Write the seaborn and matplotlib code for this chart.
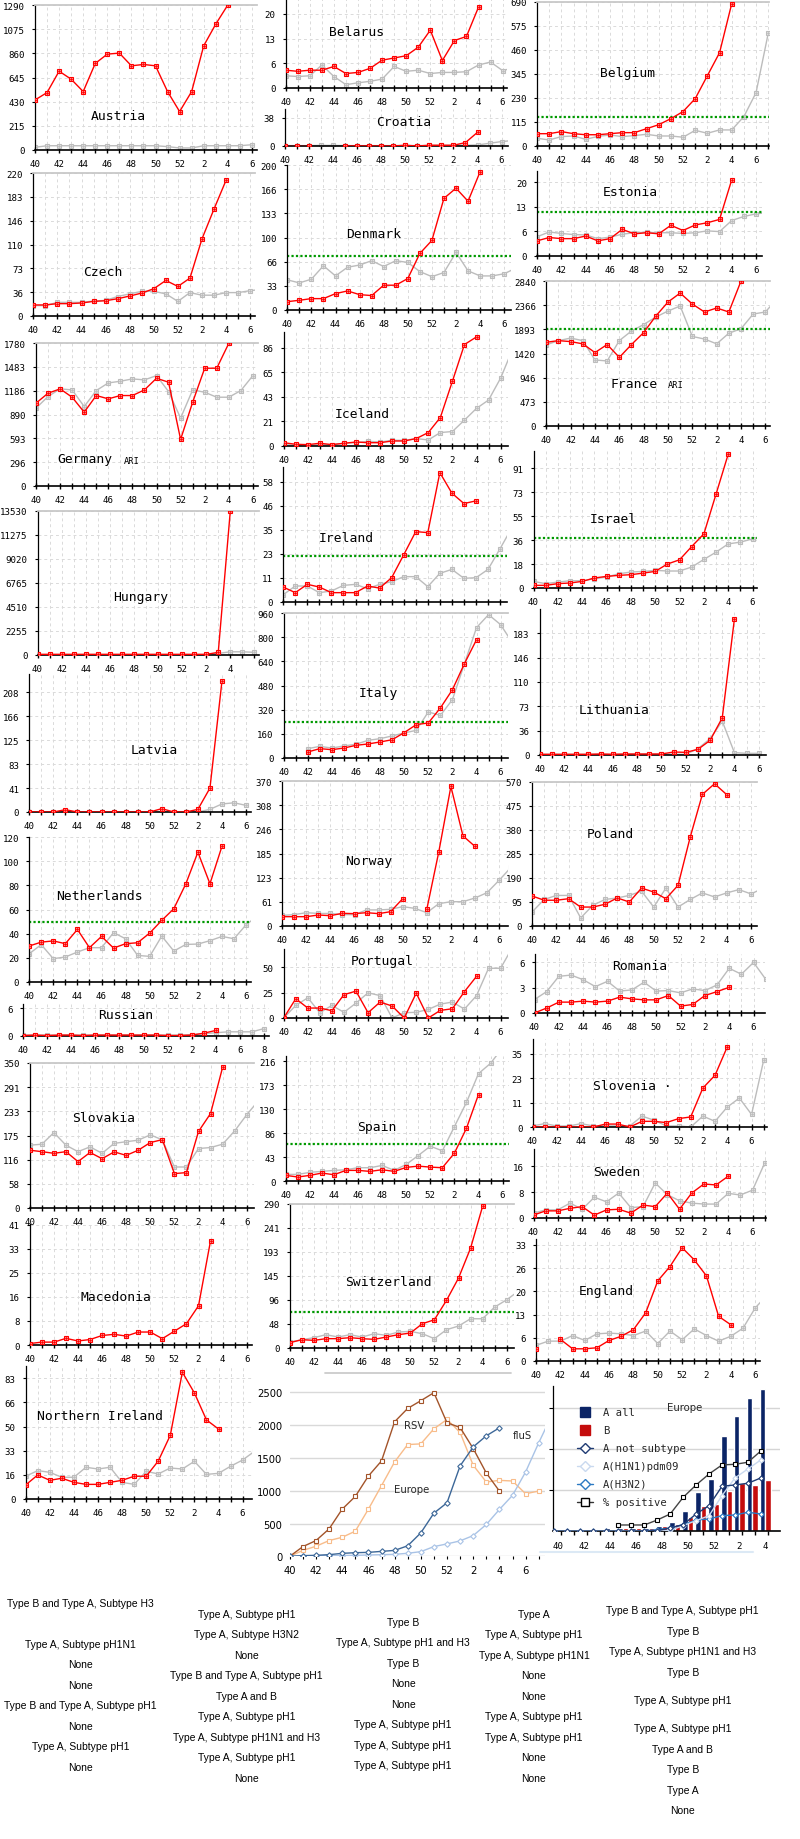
import numpy as np
import pandas as pd
import matplotlib
matplotlib.use("Agg")
import matplotlib.pyplot as plt
from matplotlib.lines import Line2D
import seaborn as sns

sns.set_theme(style="white")
plt.rcParams["font.family"] = ["DejaVu Sans Mono", "DejaVu Sans"]

N = np.nan
week_ticks = ["40", "41", "42", "43", "44", "45", "46", "47", "48", "49", "50", "51", "52",
              "1", "2", "3", "4", "5", "6", "7", "8"]

# ---------------- data (per country: red = current season, gray = previous) -------------
aut_red = [445, 511, 701, 630, 520, 770, 853, 862, 749, 761, 749, 520, 342, 520, 927, 1120, 1290]
aut_gray = [24, 38, 38, 38, 38, 38, 38, 38, 38, 38, 38, 30, 18, 18, 38, 38, 38, 38, 47]
blr_red = [4.8, 4.5, 4.8, 4.8, 5.8, 3.9, 4.2, 5.3, 7.5, 8.1, 8.7, 11.0, 15.6, 7.4, 12.8, 13.9, 21.8]
blr_gray = [3.3, 3.1, 3.3, 6.2, 3.1, 0.9, 1.4, 1.8, 2.4, 5.8, 4.5, 4.8, 3.9, 4.2, 4.2, 4.4, 6.2, 7.0, 4.7, 5.5]
hrv_red = [0, 0, 0, N, N, 0, 0, 0, 0, 0, 1, 0, 1, 1, 1, 4.6, 18.5]
hrv_gray = [0.5, 0.5, 0.5, 0.8, 0.8, 0.5, 0.5, 0.5, 0.5, 0.5, 0.8, 0.5, 0.8, 0.8, 0.8, 1.0, 1.4, 3.7, 6.0, 7.5]
bel_red = [59, 59, 69, 59, 54, 54, 59, 64, 64, 83, 102, 131, 165, 227, 337, 447, 682]
bel_gray = [37, 29, 45, 48, 32, 46, 53, 45, 50, 56, 48, 48, 42, 75, 61, 77, 77, 141, 256, 540]
cze_red = [17, 17, 19, 19, 20, 22.5, 23.5, 26.6, 30.7, 35.3, 42, 54.7, 45.5, 58.3, 118.7, 164.7, 209]
cze_gray = [16, 16, 21, 21, 21, 23, 24, 30, 34, 38, 38, 34, 22.5, 36, 32, 32, 36, 36, 39, 41]
dnk_red = [11.5, 13.4, 15.7, 15.7, 22.6, 26.3, 21.2, 19.9, 34.2, 34.2, 43.4, 78, 96, 154, 168, 150, 190.7]
dnk_gray = [41.6, 37.4, 42.5, 61, 47, 59, 62, 68, 60, 68, 65.6, 53, 46, 51.7, 79.4, 54, 47, 47, 50, 58]
est_red = [4.1, 5.0, 4.7, 4.7, 5.4, 4.1, 4.7, 7.2, 6.0, 6.3, 6.0, 8.3, 6.9, 8.4, 9.0, 9.9, 20.6]
est_gray = [5.2, 6.5, 6.1, 5.8, 5.7, 4.7, 5.1, 5.9, 6.3, 6.4, 6.3, 6.3, 6.1, 6.3, 6.8, 6.6, 9.6, 10.7, 11.4, 11.8]
fra_red = [1640, 1672, 1653, 1609, 1438, 1596, 1344, 1596, 1830, 2154, 2428, 2604, 2389, 2233, 2311, 2233, 2840]
fra_gray = [1590, 1672, 1722, 1672, 1293, 1274, 1672, 1861, 1987, 2134, 2252, 2350, 1754, 1703, 1609, 1817, 1905,
            2193, 2233, 2500]
deu_red = [1031, 1155, 1209, 1105, 919, 1126, 1085, 1126, 1126, 1196, 1341, 1292, 580, 1043, 1466, 1466, 1776]
deu_gray = [969, 1114, 1209, 1196, 989, 1188, 1283, 1304, 1333, 1321, 1374, 1176, 845, 1196, 1167, 1105, 1105, 1188, 1374]
isl_red = [2.9, 1.5, 1.2, 2.4, 1.2, 2.4, 3.5, 2.9, 2.9, 4.4, 4.4, 6.5, 11.8, 25, 56.8, 89, 95.7]
isl_gray = [1.2, 0.6, 0.6, 1.0, 1.2, 2.4, 2.9, 4.1, 3.5, 5, 5, 6.5, 5.3, 11.8, 12.7, 22.7, 33, 40.3, 59.5, 85]
hun_red = [60, 60, 60, 60, 60, 60, 60, 60, 60, 60, 60, 60, 60, 60, 60, 250, 13530]
hun_gray = [40, 40, 40, 40, 40, 40, 40, 40, 40, 40, 40, 40, 40, 40, 40, 150, 300, 300, 250]
irl_red = [7.2, 4.5, 8.5, 7.2, 4.5, 4.5, 4.5, 7.7, 6.7, 11.7, 22.7, 33.9, 33.4, 62.3, 52.4, 47.4, 48.7]
irl_gray = [3.5, 7.7, 7.7, 4.5, 5.3, 8, 8.5, 6.4, 8.5, 9.8, 12.2, 12.2, 7.4, 13.8, 15.7, 11.4, 11.7, 15.7, 25.7, 36]
isr_red = [2, 2, 3.3, 3.8, 5, 7.6, 8.8, 9.6, 10.1, 11.3, 12.6, 18.2, 21.4, 31.5, 41.1, 71.3, 101.6]
isr_gray = [5, 3.3, 4.5, 5.5, 5.5, 7, 8.3, 10.8, 12.1, 12.6, 13.4, 12.9, 12.9, 15.9, 21.7, 27.2, 33.5, 34.8, 37.3]
ita_red = [N, N, 40, 62, 55, 66, 84, 93, 106, 121, 168, 221, 232, 331, 452, 625, 783]
ita_gray = [N, N, 62, 77, 66, 80, 91, 117, 128, 146, 166, 183, 305, 282, 386, 624, 863, 949, 883, 760]
ltu_red = [1, 1, 1, 1, 1, 1.5, 1, 1.5, 1.5, 1.5, 1.5, 4.5, 4, 8.5, 22, 56, 205]
ltu_gray = [1, 1, 1, 1, 1, 1, 1, 1, 1, 1, 1, 1, 1, 9.5, 24.6, 51, 3.5, 2.5, 2.5]
lva_red = [0, 0, 0, 4, 0, 0, 0, 0, 0, 0, 0, 5.8, 0, 0, 4.6, 41.6, 228]
lva_gray = [0, 0, 0, 0, 0, 0, 0, 0, 0, 0, 0, 0, 0, 0, 0, 4.6, 14, 16, 11.5]
nld_red = [29.8, 33, 34, 31.7, 43.5, 28.4, 37.7, 28.1, 31.7, 32.5, 40.5, 51, 60.6, 81.3, 107.4, 81.3, 112.4]
nld_gray = [23.4, 30.9, 19.3, 20.7, 24.8, 28.4, 28.4, 40.8, 35.8, 22, 21.2, 38, 25.6, 31.1, 31.4, 34.2, 37.7, 35.8,
            47.4, 55]
nor_red = [23.8, 23.8, 23.8, 28, 26.4, 32.4, 31.5, 34, 31.5, 36.6, 69.8, N, 42.6, 190, 356, 230, 203]
nor_gray = [27, 29, 34, 32, 32, 29, 29, 41, 41, 42.6, 49.4, 45, 34, 57, 62, 62, 71.5, 85, 116.6, 150]
pol_red = [119, 102, 102, 108, 75, 75, 86, 111, 95, 150, 134.5, 108, 161, 352, 521, 563, 520]
pol_gray = [55, 105, 121, 121, 32, 82, 105, 111, 121, 138, 75, 150, 75, 105, 131, 115, 131, 144, 127, 150]
prt_red = [0, 19, 9.8, 9.8, 7.2, 23, 26.5, 5.2, 15.7, 11.8, 0, 24.5, 0, 7.5, 9.1, 26, 41]
prt_gray = [0, 12.4, 19.9, 5.2, 12.4, 5.6, 14.7, 24.8, 22.1, 0, 5.2, 5.6, 8.5, 13.7, 15.7, 8.8, 22, 49, 49, 70]
rou_red = [0, 0.59, 1.29, 1.29, 1.41, 1.29, 1.41, 1.88, 1.68, 1.56, 1.56, 2.07, 0.82, 1.01, 2.07, 2.54, 3.05]
rou_gray = [1.6, 2.54, 4.35, 4.5, 3.95, 3.13, 3.76, 2.6, 2.74, 3.65, 2.6, 2.66, 2.39, 2.86, 2.66, 3.33, 5.3, 4.6,
            6.0, 4.0]
rus_red = [0.1, 0.2, 0.1, 0.2, 0.2, 0.1, 0.2, 0.2, 0.2, 0.2, 0.2, 0.2, 0.1, 0.1, 0.2, 0.6, 1.2]
rus_gray = [0.2, 0.2, 0.2, 0.2, 0.2, 0.2, 0.2, 0.2, 0.2, 0.2, 0.2, 0.2, 0.2, 0.2, 0.3, 0.5, 0.7, 0.9, 0.9, 0.9, 1.6]
svk_red = [139.5, 136, 132, 136, 112, 134, 119, 135.5, 127, 139.5, 158, 165, 83, 85.5, 184.7, 228, 339.5]
svk_gray = [151.6, 154, 182, 151.6, 136, 147.6, 132, 156, 160, 163.7, 176.6, 164.5, 99, 99, 143.5, 146, 154, 186,
            225, 260]
esp_red = [10.1, 7.2, 10.1, 14.3, 11.3, 19.1, 19.1, 17.3, 20.3, 17.3, 24.5, 26.8, 25, 23.9, 50.1, 94.9, 155.7]
esp_gray = [11.9, 11.9, 15.5, 17.3, 19.1, 20.3, 23.9, 23.9, 28, 19.1, 29.8, 45.9, 62.6, 54.3, 97.9, 141.4, 193.3,
            211.8, 240]
svn_red = [0, 0, 0, 0, 0, 0, 1.4, 1.4, 0, 2.7, 2.7, 2.1, 4, 4.8, 18.6, 24.7, 38.2]
svn_gray = [0.5, 1.6, 0.5, 0.5, 1.6, 0.5, 0.5, 0.5, 0.5, 5.2, 3.2, 0.5, 0.5, 0, 5.2, 2.7, 9.5, 13.8, 6, 32, 28]
swe_red = [0.9, 2.2, 2.2, 3, 3.5, 0.9, 2.5, 2.7, 1.5, 4, 3.5, 7.7, 2.7, 7.7, 10.5, 10.2, 12.9]
swe_gray = [1.5, 2.5, 2.5, 4.6, 2.7, 6.4, 5, 7.7, 3.2, 3.5, 10.8, 7.2, 5.3, 4.6, 4.3, 4.3, 7.6, 7.1, 8.6, 17, 22]
mkd_red = [0.5, 1, 1, 2.3, 1.4, 1.9, 3.3, 3.7, 3.1, 4.5, 4.5, 2.2, 4.8, 7.4, 13.6, 36.2]
che_red = [10.7, 16.7, 15.4, 18.8, 18.8, 20.8, 18.8, 17.4, 22.1, 26.8, 30.1, 48.9, 56.9, 95.8, 140.7, 201, 285.3]
che_gray = [12, 16.7, 20.8, 26.8, 22.1, 26.8, 22.1, 28.8, 25.5, 32.1, 33.5, 28.8, 18.8, 36.8, 44.2, 58.9, 58.9, 82.4,
            97.1, 115]
eng_red = [3.5, N, 6.2, 3.5, 3.5, 3.8, 5.9, 7.1, 9, 13.8, 23, 27.1, 32.5, 29, 24.4, 12.8, 10.4]
eng_gray = [4.5, 5.7, 5.7, 7.3, 5.9, 7.8, 8, 7.8, 7.3, 8.6, 5, 8.6, 6.1, 9.2, 7.3, 5.7, 7.1, 9.4, 15.2, 19]
nir_red = [9.7, 16.6, 12.9, 14.3, 11.5, 10.1, 10.1, 11.5, 12.9, 15.7, 15.7, 26.2, 44, 87.5, 73.2, 54.6, 48.3]
nir_gray = [15.7, 19.6, 18.4, 15, 15, 21.9, 20.7, 21.9, 11.5, 10.1, 19.1, 17.3, 21.4, 20.7, 26, 17, 17.7, 22.6, 26.9, 33]

# Europe RSV / flu counts
rsv_dark = [0, 148, 240, 418, 719, 913, 1224, 1454, 2051, 2255, 2372, 2495, 2036, 1964, 1643, 1270, 995]
rsv_light = [0, 90, 153, 240, 290, 383, 719, 1077, 1439, 1704, 1714, 1944, 2087, 1888, 1388, 1133, 1158, 1148, 954, 995]
flu_dark = [0, 10, 15, 25, 45, 55, 60, 75, 90, 160, 357, 658, 816, 1378, 1668, 1837, 1959]
flu_light = [0, 5, 8, 10, 12, 15, 20, 25, 30, 46, 71, 148, 189, 235, 316, 485, 714, 929, 1286, 1730, 2150]

# Europe bars + lines
bar_a_all = [16, 24, 33, 49, 73, 73, 89, 89, 130, 228, 496, 959, 1276, 2325, 2813, 3252, 3472]
bar_b = [8, 16, 24, 33, 41, 73, 73, 81, 130, 179, 358, 618, 667, 984, 1179, 1130, 1252]
pct_pos = [N, N, N, N, N, 154, 154, 154, 276, 423, 829, 1130, 1398, 1618, 1634, 1683, 1959]
a_not_sub = [0, 0, 0, 0, 0, 0, 0, 8, 16, 81, 163, 423, 626, 1098, 1130, 1171, 1301]
a_h1n1 = [0, 0, 0, 0, 0, 0, 0, 0, 5, 20, 138, 260, 382, 870, 1301, 1520, 1740]
a_h3n2 = [0, 0, 0, 0, 0, 0, 0, 8, 41, 81, 163, 276, 301, 382, 398, 463, 423]
bar_legend = ["A all", "B", "A not subtype", "A(H1N1)pdm09", "A(H3N2)", "% positive"]

# bottom text columns
txt_col1 = ["Type B and Type A, Subtype H3", "Type A, Subtype pH1N1", "None", "None",
            "Type B and Type A, Subtype pH1", "None", "Type A, Subtype pH1", "None"]
txt_col2 = ["Type A, Subtype pH1", "Type A, Subtype H3N2", "None", "Type B and Type A, Subtype pH1",
            "Type A and B", "Type A, Subtype pH1", "Type A, Subtype pH1N1 and H3", "Type A, Subtype pH1", "None"]
txt_col3 = ["Type B", "Type A, Subtype pH1 and H3", "Type B", "None", "None", "Type A, Subtype pH1",
            "Type A, Subtype pH1", "Type A, Subtype pH1"]
txt_col4 = ["Type A", "Type A, Subtype pH1", "Type A, Subtype pH1N1", "None", "None", "Type A, Subtype pH1",
            "Type A, Subtype pH1", "None", "None"]
txt_col5 = ["Type B and Type A, Subtype pH1", "Type B", "Type A, Subtype pH1N1 and H3", "Type B",
            "Type A, Subtype pH1", "Type A, Subtype pH1", "Type A and B", "Type B", "Type A", "None"]

# ---------------- drawing -------------
FW, FH = 800, 1840
fig = plt.figure(figsize=(8, 18.4), dpi=100)
fig.patch.set_facecolor("white")

RED = "#ff0000"
GRAY = "#bcbcbc"
GREEN = "#009900"
MONO = "DejaVu Sans Mono"


def fx(x):
    return x / FW


def fy(y):
    return 1 - y / FH


def draw_series(ax, vals, color, z, marker="s", ms=3.2, x_offset=0.0, lw=1.0, dot=True, mec=None):
    v = np.asarray(vals, dtype=float)
    x = np.arange(len(v)) + x_offset
    ok = np.where(~np.isnan(v))[0]
    if len(ok) == 0:
        return
    groups = np.split(ok, np.where(np.diff(ok) > 1)[0] + 1)
    for g in groups:
        df = pd.DataFrame({"x": x[g], "y": v[g]})
        sns.lineplot(data=df, x="x", y="y", ax=ax, color=color, lw=lw, marker=marker, markersize=ms,
                     markerfacecolor="white", markeredgecolor=mec or color, markeredgewidth=0.8,
                     zorder=z, legend=False, errorbar=None)
    if dot:
        ax.plot(x[ok], v[ok], ls="none", marker="s", ms=0.9, color=color, zorder=z + 0.1)


def panel(L, T, B, ymax, xmax, red, gray, yt, ylab, step=12.05, top=False, green=None, nxl=18):
    ax = fig.add_axes([fx(L), fy(B), xmax * step / FW, (B - T) / FH])
    ax.set_facecolor("none")
    if gray is not None:
        draw_series(ax, gray, GRAY, 2)
    draw_series(ax, red, RED, 3)
    if green is not None:
        ax.axhline(green, color=GREEN, lw=1.6, ls=(0, (1, 1)), zorder=2.5)
    ax.set_xlim(0, xmax)
    ax.set_ylim(0, ymax)
    ticks = list(range(0, int(np.floor(xmax)) + 1))
    ax.set_xticks(ticks)
    ax.set_xticklabels([week_ticks[i] if (i % 2 == 0 and i <= nxl) else "" for i in ticks])
    ax.set_yticks(yt)
    ax.set_yticklabels(ylab)
    ax.grid(True, color="#dadada", lw=0.7, ls=(0, (3, 3)))
    ax.set_axisbelow(True)
    ax.spines["left"].set_color("black")
    ax.spines["left"].set_linewidth(0.9)
    ax.spines["bottom"].set_color("black")
    ax.spines["bottom"].set_linewidth(1.2)
    ax.spines["right"].set_visible(False)
    if top:
        ax.spines["top"].set_color("#c8c8c8")
        ax.spines["top"].set_linewidth(1.3)
    else:
        ax.spines["top"].set_visible(False)
    ax.tick_params(axis="x", bottom=True, direction="inout", length=5, width=1, color="black",
                   pad=4, labelsize=6.6, labelcolor="black")
    ax.tick_params(axis="y", left=True, direction="out", length=2.2, width=0.8, color="black",
                   pad=5, labelsize=6.6, labelcolor="black")
    for lab in ax.get_xticklabels() + ax.get_yticklabels():
        lab.set_family(MONO)
    ax.set_xlabel("")
    ax.set_ylabel("")
    return ax


def label(x, y, s, size=9.4):
    fig.text(fx(x), fy(y), s, ha="center", va="center", fontsize=size, family=MONO, color="black")


def steps(mx, n):
    return [mx * k / n for k in range(n + 1)]


# column 1
panel(35, 6, 151, 1290, 18.4, aut_red, aut_gray, steps(1290, 6),
      ["0", "215", "430", "645", "860", "1075", "1290"], top=True)
label(118, 117, "Austria")
panel(33.3, 174, 317, 220, 18.4, cze_red, cze_gray, steps(220, 6),
      ["0", "36", "73", "110", "146", "183", "220"], top=True)
label(102.6, 272, "Czech")
panel(36, 344, 487, 1780, 18.4, deu_red, deu_gray, steps(1780, 6),
      ["0", "296", "593", "890", "1186", "1483", "1780"], top=True)
label(84.6, 459.3, "Germany")
label(132, 461.7, "ARI", size=6.3)
panel(37.5, 512, 656, 13530, 18.4, hun_red, hun_gray, steps(13530, 6),
      ["0", "2255", "4510", "6765", "9020", "11275", "13530"], top=True, nxl=16)
label(141, 598, "Hungary")
panel(29.2, 675, 813, 240, 18.4, lva_red, lva_gray, steps(208, 5),
      ["0", "41", "83", "125", "166", "208"])
label(154, 751, "Latvia")
panel(29.2, 838, 983, 120, 18.4, nld_red, nld_gray, steps(120, 6),
      ["0", "20", "40", "60", "80", "100", "120"], green=50)
label(99, 897, "Netherlands")
panel(23, 1005, 1037, 6.9, 20.4, rus_red, rus_gray, [0, 6], ["0", "6"], nxl=20)
label(125.7, 1016, "Russian")
panel(29.8, 1064, 1209, 350, 18.6, svk_red, svk_gray, steps(350, 6),
      ["0", "58", "116", "175", "233", "291", "350"], top=True)
label(103.6, 1119, "Slovakia")
panel(29.8, 1225, 1346, 42, 18.4, mkd_red, None, steps(41.67, 5),
      ["0", "8", "16", "25", "33", "41"])
label(116, 1298, "Macedonia")
panel(25.7, 1367, 1500, 91.8, 18.8, nir_red, nir_gray, steps(83.33, 5),
      ["0", "16", "33", "50", "66", "83"])
label(100, 1417, "Northern Ireland")

# column 2
panel(285.7, 0, 89, 24, 18.4, blr_red, blr_gray, steps(20, 3), ["0", "6", "13", "20"])
label(356.5, 32, "Belarus")
panel(284.7, 110, 147, 50, 18.5, hrv_red, hrv_gray, [0, 38], ["0", "38"])
label(404, 122, "Croatia")
panel(287.3, 166, 311, 200, 18.6, dnk_red, dnk_gray, steps(200, 6),
      ["0", "33", "66", "100", "133", "166", "200"], green=75)
label(373.5, 235, "Denmark")
panel(283.7, 333, 447, 100, 18.6, isl_red, isl_gray, steps(86, 4), ["0", "21", "43", "65", "86"])
label(362.7, 415, "Iceland")
panel(283.2, 468, 603, 65, 18.6, irl_red, irl_gray, steps(58, 5),
      ["0", "11", "23", "35", "46", "58"], green=22, nxl=-1)
label(346.8, 538, "Ireland")
panel(283.7, 614, 759, 960, 18.6, ita_red, ita_gray, steps(960, 6),
      ["0", "160", "320", "480", "640", "800", "960"], top=True, green=240)
label(378.6, 694, "Italy")
panel(282.2, 782, 927, 370, 18.7, nor_red, nor_gray, steps(370, 6),
      ["0", "61", "123", "185", "246", "308", "370"], top=True)
label(368.3, 861, "Norway")
panel(283.7, 950, 1019, 68, 18.6, prt_red, prt_gray, [0, 25, 50], ["0", "25", "50"])
label(382, 962, "Portugal")
panel(285.7, 1057, 1182, 225, 18.5, esp_red, esp_gray, steps(216, 5),
      ["0", "43", "86", "130", "173", "216"], green=67)
label(377, 1128, "Spain")
panel(289.8, 1205, 1349, 290, 18.6, che_red, che_gray, steps(290, 6),
      ["0", "48", "96", "145", "193", "241", "290"], top=True, green=73)
label(388, 1283, "Switzerland")

# column 3
panel(537, 3, 147, 690, 19.1, bel_red, bel_gray, steps(690, 6),
      ["0", "115", "230", "345", "460", "575", "690"], step=12.17, top=True, green=140)
label(628, 73, "Belgium")
panel(537, 172, 257, 23, 18.5, est_red, est_gray, steps(20, 3), ["0", "6", "13", "20"],
      step=12.17, green=12)
label(630, 193, "Estonia")
panel(546.3, 282, 427, 2840, 18.4, fra_red, fra_gray, steps(2840, 6),
      ["0", "473", "946", "1420", "1893", "2366", "2840"], step=12.17, top=True, green=1900)
label(634.6, 384.3, "France")
label(676, 386, "ARI", size=6.3)
panel(533.5, 452, 589, 104, 18.4, isr_red, isr_gray, steps(91, 5),
      ["0", "18", "36", "55", "73", "91"], step=12.17, green=38)
label(613, 520, "Israel")
panel(539.7, 610, 756, 220, 18.6, ltu_red, ltu_gray, steps(220, 6)[:-1],
      ["0", "36", "73", "110", "146", "183"], step=12.17)
label(614, 710, "Lithuania")
panel(532, 783, 927, 570, 18.5, pol_red, pol_gray, steps(570, 6),
      ["0", "95", "190", "285", "380", "475", "570"], step=12.17, top=True)
label(610.5, 835, "Poland")
panel(534.5, 955, 1014, 7, 18.9, rou_red, rou_gray, [0, 3, 6], ["0", "3", "6"], step=12.17)
label(640, 967, "Romania")
panel(532.5, 1040, 1128, 42, 19.3, svn_red, svn_gray, steps(35, 3), ["0", "11", "23", "35"], step=12.17)
label(632, 1087, "Slovenia ·")
panel(533.5, 1150, 1219, 21.3, 19.1, swe_red, swe_gray, [0, 8, 16], ["0", "8", "16"], step=12.17)
label(617, 1172, "Sweden")
panel(536.1, 1240, 1362, 35, 18.4, eng_red, eng_gray, steps(33.33, 5),
      ["0", "6", "13", "20", "26", "33"], step=12.17)
label(606, 1292, "England")

# stray gray line of a hidden chart below Switzerland
fig.add_artist(Line2D([fx(325), fx(511)], [fy(1374), fy(1374)], color="#cccccc", lw=1.3,
                      transform=fig.transFigure))

# ---------------- Europe RSV / flu chart -------------
rB, rT = 1557.3, 1383.5
axr = fig.add_axes([fx(289.8), fy(rB), 19.45 * 13.1 / FW, (rB - rT) / FH])
axr.set_facecolor("none")
draw_series(axr, rsv_light, "#f8bc8a", 2, ms=3.4, dot=False)
draw_series(axr, rsv_dark, "#a3542a", 3, ms=3.4, dot=False)
draw_series(axr, flu_light, "#a9c3e6", 2, marker="D", ms=2.8, dot=False)
draw_series(axr, flu_dark, "#3c6798", 3, marker="D", ms=2.8, dot=False)
axr.set_xlim(0, 19.45)
axr.set_ylim(0, 2650)
axr.set_yticks([0, 500, 1000, 1500, 2000, 2500])
axr.set_yticklabels(["0", "500", "1000", "1500", "2000", "2500"])
axr.set_xticks(list(range(0, 20)))
axr.set_xticklabels([week_ticks[i] if (i % 2 == 0 and i <= 18) else "" for i in range(20)])
axr.grid(True, axis="y", color="#d9d9d9", lw=1)
axr.grid(False, axis="x")
axr.set_axisbelow(True)
for s in axr.spines.values():
    s.set_visible(False)
axr.tick_params(axis="x", bottom=True, direction="out", length=2.5, width=0.8, color="black",
                pad=4, labelsize=7.2, labelcolor="black")
axr.tick_params(axis="y", left=False, length=0, pad=5.5, labelsize=7.2, labelcolor="black")
for lab in axr.get_xticklabels() + axr.get_yticklabels():
    lab.set_family("DejaVu Sans")
axr.set_xlabel("")
axr.set_ylabel("")
axr.text(9.5, 2000, "RSV", fontsize=7.3, family="DejaVu Sans", ha="center", va="center")
axr.text(17.0, 1850, "fluS", fontsize=7.3, family="DejaVu Sans", ha="left", va="center", clip_on=True)
axr.text(9.3, 1020, "Europe", fontsize=7.3, family="DejaVu Sans", ha="center", va="center")

# ---------------- Europe bar chart -------------
NAVY = "#0b2466"
BRED = "#c40c0c"
bB, bT = 1532.3, 1386.7
axb = fig.add_axes([fx(552.7), fy(bB), (780 - 552.7) / FW, (bB - bT) / FH])
axb.set_facecolor("none")
bars_df = pd.DataFrame({"week": list(range(17)) * 2,
                        "value": bar_a_all + bar_b,
                        "series": ["A all"] * 17 + ["B"] * 17})
sns.barplot(data=bars_df, x="week", y="value", hue="series", order=list(range(17)),
            hue_order=["A all", "B"], palette={"A all": NAVY, "B": BRED}, width=0.85,
            saturation=1, legend=False, ax=axb, zorder=2)
draw_series(axb, a_h3n2, "#2b79c2", 3, marker="D", ms=2.6, x_offset=-0.35, dot=False)
draw_series(axb, a_h1n1, "#c9d9ef", 3, marker="D", ms=2.6, x_offset=-0.35, dot=False)
draw_series(axb, a_not_sub, "#1f3b73", 3, marker="D", ms=2.6, x_offset=-0.35, dot=False)
draw_series(axb, pct_pos, "#444444", 4, marker="s", ms=3.4, x_offset=-0.35, dot=False, mec="black")
axb.set_xlim(-0.43, 17.13)
axb.set_ylim(0, 3550)
axb.set_yticks([1000, 2000, 3000])
axb.set_yticklabels([])
axb.set_xticks([0, 2, 4, 6, 8, 10, 12, 14, 16])
axb.set_xticklabels([week_ticks[i] for i in [0, 2, 4, 6, 8, 10, 12, 14, 16]])
axb.set_xticks([i + 0.2 for i in range(17)], minor=True)
axb.grid(True, axis="y", color="#d5d5d5", lw=1)
axb.grid(False, axis="x")
axb.set_axisbelow(True)
axb.spines["left"].set_color("black")
axb.spines["left"].set_linewidth(0.9)
axb.spines["bottom"].set_color("black")
axb.spines["bottom"].set_linewidth(1.2)
axb.spines["top"].set_visible(False)
axb.spines["right"].set_visible(False)
axb.tick_params(axis="x", which="major", bottom=True, length=0, pad=7, labelsize=6.6, labelcolor="black")
axb.tick_params(axis="x", which="minor", bottom=True, direction="out", length=3, width=1, color="black")
axb.tick_params(axis="y", left=True, direction="out", length=3, width=0.8, color="black")
for lab in axb.get_xticklabels():
    lab.set_family(MONO)
axb.set_xlabel("")
axb.set_ylabel("")
fig.text(fx(685), fy(1408.3), "Europe", fontsize=7.3, family="DejaVu Sans", ha="center", va="center")

# legend (drawn by hand)
leg_y = [1413.3, 1431, 1449, 1467.3, 1485, 1503.3]
leg_col = [NAVY, BRED, "#1f3b73", "#c9d9ef", "#2b79c2", "#333333"]
for i, (name, yy, c) in enumerate(zip(bar_legend, leg_y, leg_col)):
    if i < 2:
        fig.add_artist(Line2D([fx(585)], [fy(yy)], marker="s", ms=7.4, mfc=c, mec=c, ls="none",
                              transform=fig.transFigure))
    else:
        fig.add_artist(Line2D([fx(577), fx(593)], [fy(yy), fy(yy)], color=c, lw=1,
                              transform=fig.transFigure))
        mk = "s" if i == 5 else "D"
        fig.add_artist(Line2D([fx(585)], [fy(yy)], marker=mk, ms=6.2 if i == 5 else 5.0, mfc="white",
                              mec="black" if i == 5 else c, mew=1, ls="none", transform=fig.transFigure))
    fig.text(fx(602.7), fy(yy), name, fontsize=7.6, family=MONO, ha="left", va="center")

fig.add_artist(Line2D([fx(540), fx(753)], [fy(1552.7), fy(1552.7)], color="#dce9f5", lw=1.5,
                      transform=fig.transFigure))

# ---------------- bottom text -------------
col_x = [80.5, 246.8, 403.2, 534, 682.8]
col_y = [[1604, 1645, 1665, 1686, 1706, 1727, 1747, 1768],
         [1615, 1635, 1656, 1676, 1697, 1717, 1738, 1758, 1779],
         [1623, 1643, 1664, 1684, 1705, 1725, 1746, 1766],
         [1615, 1635, 1656, 1676, 1697, 1717, 1738, 1758, 1779],
         [1611, 1632, 1652, 1673, 1701, 1729, 1750, 1770, 1791, 1811]]
for cx, ys, texts in zip(col_x, col_y, [txt_col1, txt_col2, txt_col3, txt_col4, txt_col5]):
    for yy, t in zip(ys, texts):
        fig.text(fx(cx), fy(yy), t, fontsize=7.5, family="Liberation Sans", ha="center", va="center",
                 color="black")

fig.savefig("out.png", dpi=100, facecolor="white")
